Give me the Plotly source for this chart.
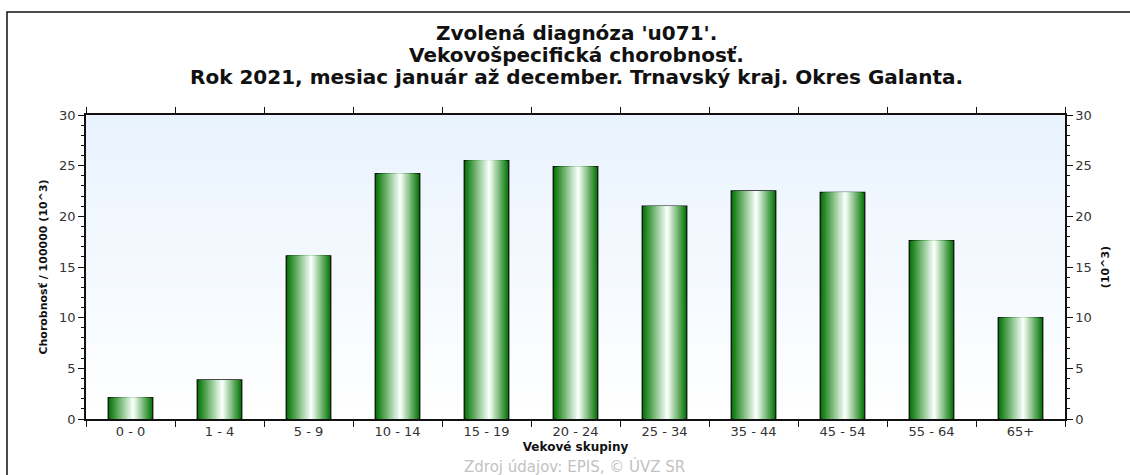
import base64, struct, zlib
import plotly.graph_objects as go

categories = ["0 - 0", "1 - 4", "5 - 9", "10 - 14", "15 - 19", "20 - 24",
              "25 - 34", "35 - 44", "45 - 54", "55 - 64", "65+"]
values = [2.1, 3.85, 16.1, 24.2, 25.5, 24.9, 21.0, 22.5, 22.35, 17.6, 10.0]
y_ticks = [0, 5, 10, 15, 20, 25, 30]

title_lines = ["Zvolená diagnóza 'u071'.",
               "Vekovošpecifická chorobnosť.",
               "Rok 2021, mesiac január až december. Trnavský kraj. Okres Galanta."]
source_text = "Zdroj údajov: EPIS, © ÚVZ SR"


def gradient_png(top, bottom, h=64, w=2):
    raw = b""
    for i in range(h):
        t = i / (h - 1)
        c = bytes(int(round(top[j] + (bottom[j] - top[j]) * t)) for j in range(3))
        raw += b"\x00" + c * w

    def chunk(tag, data):
        return (struct.pack(">I", len(data)) + tag + data +
                struct.pack(">I", zlib.crc32(tag + data) & 0xffffffff))

    png = (b"\x89PNG\r\n\x1a\n" +
           chunk(b"IHDR", struct.pack(">IIBBBBB", w, h, 8, 2, 0, 0, 0)) +
           chunk(b"IDAT", zlib.compress(raw)) + chunk(b"IEND", b""))
    return "data:image/png;base64," + base64.b64encode(png).decode()


fig = go.Figure()

# gradient bars: overlay layers of decreasing width, highlight slightly right of centre
N = 16
W = 0.5
HL = 0.56  # relative position of highlight
dark = (6, 118, 6)
white = (245, 255, 245)
for k in range(N):
    t = (k / (N - 1)) ** 1.0
    col = tuple(int(dark[j] + (white[j] - dark[j]) * t) for j in range(3))
    wk = W * (1 - k / N)
    fig.add_trace(go.Bar(
        x=categories, y=values, width=wk, offset=-W / 2 + (W - wk) * HL,
        marker=dict(color="rgb(%d,%d,%d)" % col,
                    line=dict(color="#111", width=1.3 if k == 0 else 0)),
        showlegend=False, hoverinfo="skip" if k else None,
    ))

font_main = "DejaVu Sans, Verdana, sans-serif"

# layout geometry (pixels): plot area 86..1065 x 115..419
L, R, T, B = 86, 65, 115, 56
W_FIG, H_FIG = 1130, 475
PW = W_FIG - L - R
PH = H_FIG - T - B


def py(p):
    return (H_FIG - B - p) / PH


def px(p):
    return (p - L) / PW


title_y = [33, 55, 77]
annotations = [dict(text="<b>%s</b>" % s, xref="paper", yref="paper",
                    x=px(576), y=py(yy), xanchor="center", yanchor="middle",
                    showarrow=False,
                    font=dict(family=font_main, size=20, color="#111"))
               for s, yy in zip(title_lines, title_y)]
annotations.append(dict(text=source_text, xref="paper", yref="paper",
                        x=px(574), y=py(466), xanchor="center", yanchor="middle",
                        showarrow=False,
                        font=dict(family=font_main, size=15, color="#c2c2c2")))

fig.update_layout(
    width=W_FIG, height=H_FIG,
    margin=dict(l=L, r=R, t=T, b=B),
    barmode="overlay",
    paper_bgcolor="white",
    plot_bgcolor="white",
    font=dict(family=font_main, size=12, color="#333"),
    xaxis=dict(
        type="category", tickson="boundaries", ticks="outside", ticklen=6,
        tickcolor="#111", showline=True, linecolor="#111", linewidth=1.5,
        mirror="ticks", showgrid=False,
        title=dict(text="<b>Vekové skupiny</b>", standoff=4,
                   font=dict(size=12, color="#111")),
        tickfont=dict(size=13, color="#333"),
    ),
    yaxis=dict(
        range=[0, 30], tickvals=y_ticks, ticks="outside", ticklen=6,
        tickcolor="#111", showline=True, linecolor="#111", linewidth=1.5,
        showgrid=False, zeroline=False,
        minor=dict(dtick=1, ticks="outside", ticklen=3, tickcolor="#111"),
        title=dict(text="<b>Chorobnosť / 100000 (10^3)</b>", standoff=9,
                   font=dict(size=11, color="#111")),
        tickfont=dict(size=13, color="#333"),
    ),
    yaxis2=dict(
        overlaying="y", side="right", range=[0, 30], tickvals=y_ticks,
        ticks="outside", ticklen=6, tickcolor="#111", showline=True,
        linecolor="#111", linewidth=1.5, showgrid=False, zeroline=False,
        minor=dict(dtick=1, ticks="outside", ticklen=3, tickcolor="#111"),
        title=dict(text="<b>(10^3)</b>", standoff=10,
                   font=dict(size=11, color="#111")),
        tickfont=dict(size=13, color="#333"),
    ),
    images=[dict(source=gradient_png((233, 243, 254), (255, 255, 255)),
                 xref="paper", yref="paper", x=0, y=1, sizex=1, sizey=1,
                 sizing="stretch", layer="below", xanchor="left", yanchor="top")],
    shapes=[dict(type="rect", xref="paper", yref="paper",
                 x0=px(7), x1=px(1200), y0=py(600), y1=py(12),
                 line=dict(color="#111", width=1.5))],
    annotations=annotations,
)

# secondary axis reference trace (invisible) so the right axis is rendered
fig.add_trace(go.Bar(x=categories, y=values, yaxis="y2", width=0,
                     marker=dict(color="rgba(0,0,0,0)"), showlegend=False,
                     hoverinfo="skip"))

fig.write_html("out.html", config={"displayModeBar": False},
               post_script="document.body.style.margin='0';")
